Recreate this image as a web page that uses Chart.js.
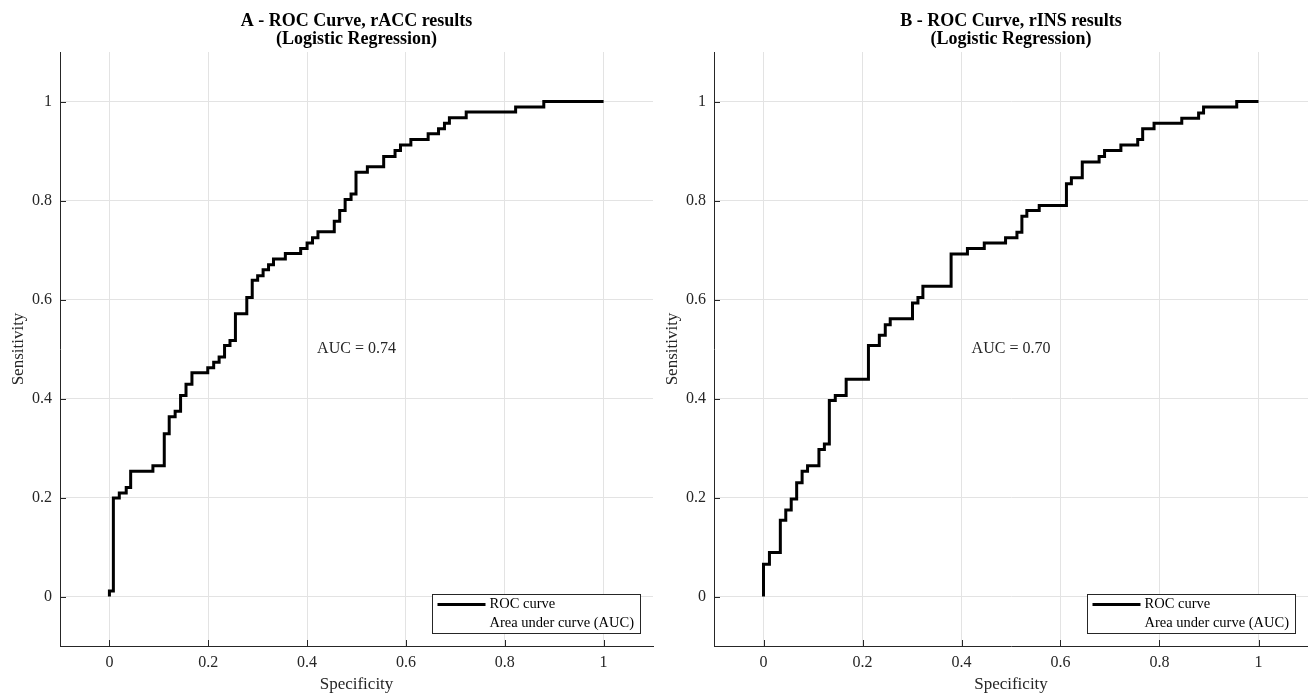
<!DOCTYPE html>
<html>
<head>
<meta charset="utf-8">
<script src="https://cdn.jsdelivr.net/npm/chart.js@4.4.1/dist/chart.umd.min.js"></script>
<style>
html, body { margin: 0; padding: 0; background: #fff; }
#wrap { position: relative; width: 1308px; height: 697px; overflow: hidden; }
.panel { position: absolute; top: 0; width: 654px; height: 697px; }
</style>
</head>
<body>
<div id="wrap">
    <div class="panel" style="left:0"><canvas id="chartA" width="654" height="697"></canvas></div>
    <div class="panel" style="left:654px"><canvas id="chartB" width="654" height="697"></canvas></div>
</div>
<script>
// ROC data (false positive rate / true positive rate corners)
const fprA = [0, 0, 0.008, 0.020, 0.034, 0.043, 0.088, 0.111, 0.121, 0.133, 0.144, 0.155, 0.167, 0.199, 0.211, 0.222, 0.233, 0.244,
    0.255, 0.278, 0.289, 0.300, 0.311, 0.322, 0.332, 0.356, 0.387, 0.400, 0.411, 0.422, 0.455, 0.466, 0.477, 0.489, 0.499,
    0.522, 0.555, 0.578, 0.589, 0.610, 0.645, 0.666, 0.678, 0.688, 0.722, 0.822, 0.879, 1.0];
const tprA = [0, 0.011, 0.199, 0.209, 0.220, 0.253, 0.264, 0.329, 0.363, 0.374, 0.406, 0.429, 0.452, 0.462, 0.473, 0.484, 0.507, 0.517,
    0.571, 0.604, 0.639, 0.648, 0.660, 0.670, 0.682, 0.693, 0.703, 0.714, 0.725, 0.737, 0.758, 0.780, 0.802, 0.813, 0.857,
    0.868, 0.889, 0.901, 0.912, 0.923, 0.935, 0.945, 0.956, 0.967, 0.979, 0.989, 1.0, 1.0];

const fprB = [0, 0, 0.012, 0.034, 0.045, 0.056, 0.067, 0.078, 0.089, 0.112, 0.123, 0.133, 0.145, 0.167, 0.212, 0.234, 0.246, 0.256,
    0.301, 0.312, 0.322, 0.379, 0.412, 0.446, 0.489, 0.512, 0.522, 0.532, 0.557, 0.612, 0.622, 0.644, 0.678, 0.689, 0.722,
    0.756, 0.766, 0.789, 0.845, 0.879, 0.889, 0.956, 1.0];
const tprB = [0, 0.065, 0.089, 0.154, 0.175, 0.197, 0.230, 0.253, 0.264, 0.297, 0.308, 0.396, 0.406, 0.439, 0.507, 0.528, 0.549, 0.561,
    0.593, 0.604, 0.627, 0.692, 0.703, 0.714, 0.725, 0.736, 0.768, 0.780, 0.790, 0.834, 0.846, 0.878, 0.889, 0.901, 0.912,
    0.923, 0.945, 0.956, 0.966, 0.977, 0.989, 1.0, 1.0];

const tickValues = [0, 0.2, 0.4, 0.6, 0.8, 1];
const tickLabels = ['0', '0.2', '0.4', '0.6', '0.8', '1'];
const legendLabels = ['ROC curve', 'Area under curve (AUC)'];
const titleA = ['A - ROC Curve, rACC results', '(Logistic Regression)'];
const titleB = ['B - ROC Curve, rINS results', '(Logistic Regression)'];
const aucA = 'AUC = 0.74';
const aucB = 'AUC = 0.70';

const SERIF = "'Liberation Serif', 'Times New Roman', serif";
const AXIS_COLOR = '#262626';

// titles, inward tick marks, AUC note and legend box
const decorPlugin = {
    id: 'decor',
    afterDraw(chart, args, opts) {
        const { ctx, chartArea: a, scales: { x, y } } = chart;
        ctx.save();

        // tick marks pointing into the plot
        ctx.strokeStyle = AXIS_COLOR;
        ctx.lineWidth = 1;
        ctx.beginPath();
        tickValues.forEach(v => {
            const px = Math.round(x.getPixelForValue(v)) + 0.5;
            ctx.moveTo(px, a.bottom);
            ctx.lineTo(px, a.bottom - 6);
            const py = Math.round(y.getPixelForValue(v)) + 0.5;
            ctx.moveTo(a.left, py);
            ctx.lineTo(a.left + 6, py);
        });
        ctx.stroke();

        // title
        const cx = (a.left + a.right) / 2;
        ctx.fillStyle = '#000';
        ctx.textAlign = 'center';
        ctx.textBaseline = 'middle';
        ctx.font = 'bold 18px ' + SERIF;
        ctx.fillText(opts.title[0], cx, 21);
        ctx.fillText(opts.title[1], cx, 39);

        // AUC note in data coords
        ctx.font = '16px ' + SERIF;
        ctx.fillStyle = AXIS_COLOR;
        ctx.fillText(opts.auc, x.getPixelForValue(0.5), y.getPixelForValue(0.5));

        // legend box bottom right
        const bw = 208, bh = 39;
        const bx = Math.round(a.right - 13 - bw) + 0.5;
        const by = Math.round(a.bottom - 13 - bh) + 0.5;
        ctx.fillStyle = '#fff';
        ctx.fillRect(bx, by, bw, bh);
        ctx.strokeStyle = AXIS_COLOR;
        ctx.lineWidth = 1;
        ctx.strokeRect(bx, by, bw, bh);
        ctx.strokeStyle = '#000';
        ctx.lineWidth = 3;
        ctx.beginPath();
        ctx.moveTo(bx + 5, by + 10);
        ctx.lineTo(bx + 53, by + 10);
        ctx.stroke();
        ctx.fillStyle = '#000';
        ctx.textAlign = 'left';
        ctx.font = '14.5px ' + SERIF;
        ctx.fillText(legendLabels[0], bx + 57, by + 10);
        ctx.fillText(legendLabels[1], bx + 57, by + 29);

        ctx.restore();
    }
};

function makeRoc(canvasId, fpr, tpr, title, auc, rightPad) {
    const ctx = document.getElementById(canvasId).getContext('2d');
    return new Chart(ctx, {
        type: 'line',
        data: {
            datasets: [{
                label: legendLabels[0],
                data: fpr.map((v, i) => ({ x: v, y: tpr[i] })),
                stepped: 'before', // horizontal run first, then the vertical jump
                borderColor: '#000',
                borderWidth: 3,
                pointRadius: 0,
                fill: false
            }]
        },
        options: {
            responsive: false,
            animation: false,
            layout: { padding: { top: 52, right: rightPad, left: 0, bottom: 0 } },
            plugins: {
                legend: { display: false },
                tooltip: { enabled: false },
                decor: { title: title, auc: auc }
            },
            scales: {
                x: {
                    type: 'linear',
                    min: -0.1,
                    max: 1.1,
                    afterBuildTicks: s => { s.ticks = tickValues.map(v => ({ value: v })); },
                    afterFit: s => { s.height = 51; },
                    grid: { color: '#e3e3e3', drawTicks: false },
                    border: { display: true, color: AXIS_COLOR, width: 1 },
                    ticks: {
                        padding: 7,
                        color: AXIS_COLOR,
                        font: { family: SERIF, size: 16 },
                        maxRotation: 0,
                        callback: v => tickLabels[tickValues.indexOf(v)]
                    },
                    title: {
                        display: true,
                        text: 'Specificity',
                        color: AXIS_COLOR,
                        font: { family: SERIF, size: 17 },
                        padding: { top: 0, bottom: 2 }
                    }
                },
                y: {
                    type: 'linear',
                    min: -0.1,
                    max: 1.1,
                    afterBuildTicks: s => { s.ticks = tickValues.map(v => ({ value: v })); },
                    afterFit: s => { s.width = 60; },
                    grid: { color: '#e3e3e3', drawTicks: false },
                    border: { display: true, color: AXIS_COLOR, width: 1 },
                    ticks: {
                        padding: 8,
                        color: AXIS_COLOR,
                        font: { family: SERIF, size: 16 },
                        callback: v => tickLabels[tickValues.indexOf(v)]
                    },
                    title: {
                        display: true,
                        text: 'Sensitivity',
                        color: AXIS_COLOR,
                        font: { family: SERIF, size: 17 },
                        padding: { top: 8, bottom: 0 }
                    }
                }
            }
        },
        plugins: [decorPlugin]
    });
}

makeRoc('chartA', fprA, tprA, titleA, aucA, 1);
makeRoc('chartB', fprB, tprB, titleB, aucB, 0);
</script>
</body>
</html>
